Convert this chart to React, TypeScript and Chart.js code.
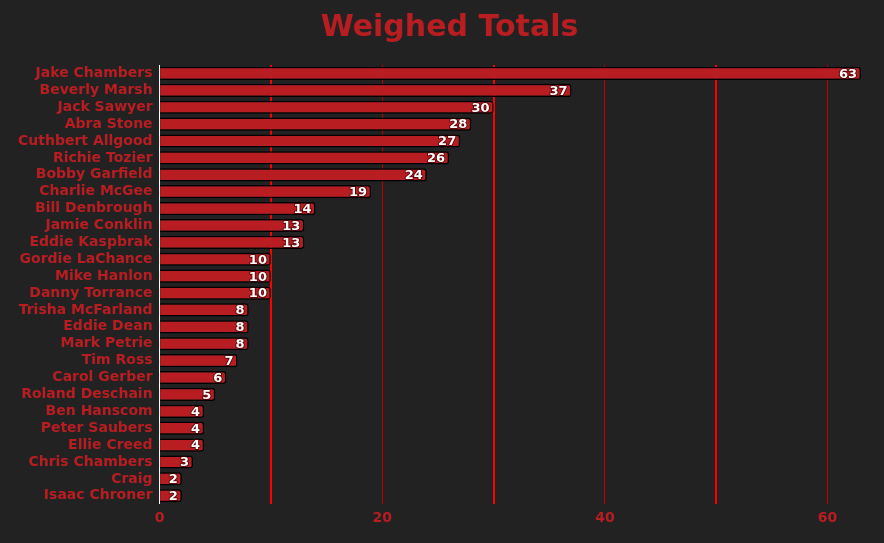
import React, { useEffect, useRef } from "react";
import { Chart, registerables } from "chart.js";

Chart.register(...registerables);

const names = [
  "Jake Chambers", "Beverly Marsh", "Jack Sawyer", "Abra Stone", "Cuthbert Allgood",
  "Richie Tozier", "Bobby Garfield", "Charlie McGee", "Bill Denbrough", "Jamie Conklin",
  "Eddie Kaspbrak", "Gordie LaChance", "Mike Hanlon", "Danny Torrance", "Trisha McFarland",
  "Eddie Dean", "Mark Petrie", "Tim Ross", "Carol Gerber", "Roland Deschain",
  "Ben Hanscom", "Peter Saubers", "Ellie Creed", "Chris Chambers", "Craig", "Isaac Chroner",
];
const totals = [63, 37, 30, 28, 27, 26, 24, 19, 14, 13, 13, 10, 10, 10, 8, 8, 8, 7, 6, 5, 4, 4, 4, 3, 2, 2];
const titleText = "Weighed Totals";

const RED = "#b81d22";
const FONT = "'DejaVu Sans', Verdana, sans-serif";

const valueLabels = {
  id: "valueLabels",
  afterDatasetsDraw(chart: any) {
    const ctx = chart.ctx;
    const meta = chart.getDatasetMeta(0);
    const data = chart.data.datasets[0].data;
    ctx.save();
    ctx.font = `bold 13px ${FONT}`;
    ctx.textAlign = "right";
    ctx.textBaseline = "middle";
    ctx.lineJoin = "round";
    meta.data.forEach((bar: any, i: number) => {
      const t = String(data[i]);
      const x = bar.x - 4;
      const y = bar.y + 1;
      ctx.strokeStyle = "rgba(60,0,0,0.7)";
      ctx.lineWidth = 2;
      ctx.strokeText(t, x, y);
      ctx.fillStyle = "#ffffff";
      ctx.fillText(t, x, y);
    });
    ctx.restore();
  },
};

const shiftTitle = {
  id: "shiftTitle",
  afterLayout(chart: any) {
    const tb = chart.titleBlock;
    if (tb) {
      tb.left = 15;
      tb.right = chart.width;
    }
  },
};

export default function App() {
  const ref = useRef<HTMLCanvasElement>(null);
  useEffect(() => {
    document.body.style.margin = "0";
    document.body.style.overflow = "hidden";
    document.body.style.background = "#222222";
    const chart = new Chart(ref.current!, {
      type: "bar",
      data: {
        labels: names,
        datasets: [
          {
            data: totals,
            backgroundColor: RED,
            borderColor: "#000000",
            borderWidth: 1.5,
            borderRadius: 3,
            barPercentage: 1.0,
            categoryPercentage: 0.78,
          },
        ],
      },
      options: {
        indexAxis: "y",
        animation: false,
        responsive: false,
        maintainAspectRatio: false,
        layout: { padding: { left: 11, right: 23, top: 0, bottom: 10 } },
        plugins: {
          legend: { display: false },
          tooltip: { enabled: false },
          title: {
            display: true,
            text: titleText,
            color: RED,
            font: { family: FONT, size: 30, weight: "bold" },
            padding: { top: 10, bottom: 19 },
          },
        },
        scales: {
          x: {
            min: 0,
            max: 63,
            border: { display: false },
            afterBuildTicks: (axis: any) => {
              axis.ticks = axis.ticks.filter((t: any) => t.value % 10 === 0);
            },
            grid: {
              drawTicks: false,
              color: (c: any) => {
                const v = c.tick ? c.tick.value : 0;
                if (v === 0) return "#ffffff";
                return v % 20 === 0 ? "#c00000" : "#ff0000";
              },
              lineWidth: (c: any) => {
                const v = c.tick ? c.tick.value : 0;
                return v % 20 === 0 ? 1 : 2;
              },
            },
            ticks: {
              stepSize: 10,
              padding: 6,
              color: RED,
              font: { family: FONT, size: 14, weight: "bold" },
              callback: (v: any) => (Number(v) % 20 === 0 ? String(v) : ""),
            },
          },
          y: {
            border: { display: false },
            grid: { display: false, drawTicks: false },
            ticks: {
              padding: 7,
              color: RED,
              autoSkip: false,
              font: { family: FONT, size: 14, weight: "bold" },
            },
          },
        },
      },
      plugins: [valueLabels, shiftTitle],
    });
    return () => chart.destroy();
  }, []);
  return (
    <div style={{ width: 884, height: 543, background: "#222222", overflow: "hidden" }}>
      <canvas ref={ref} width={884} height={543} style={{ display: "block" }} />
    </div>
  );
}
